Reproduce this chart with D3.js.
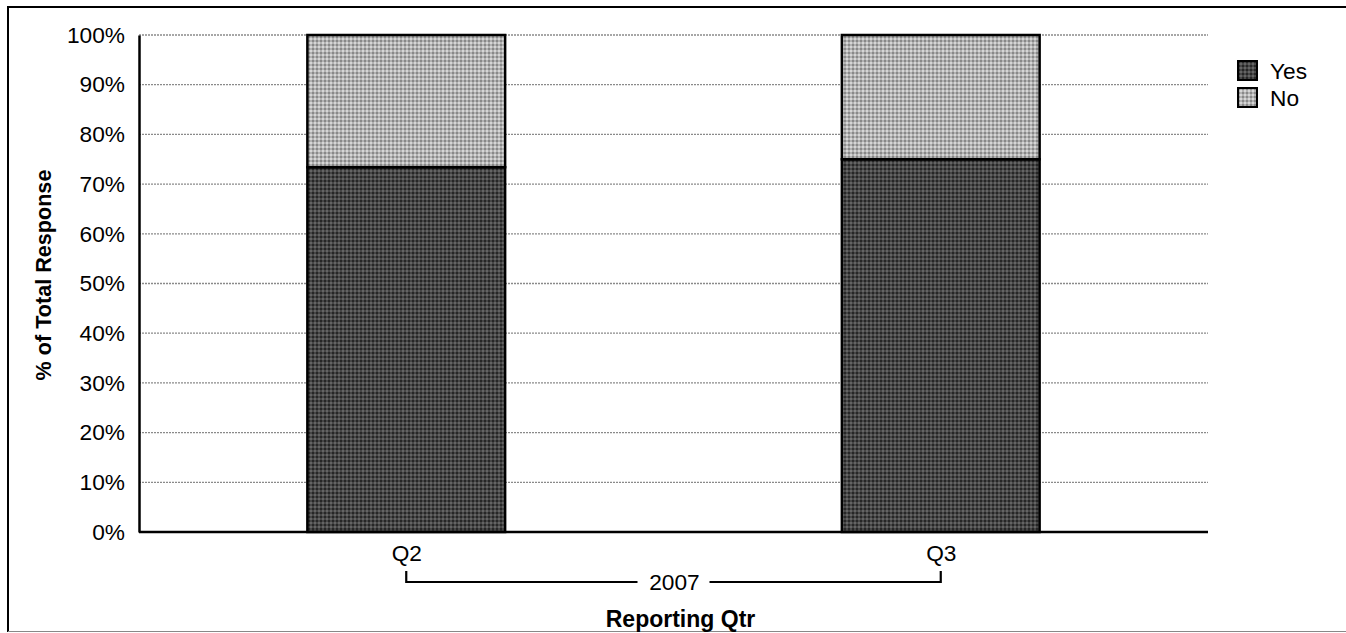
<!DOCTYPE html>
<html>
<head>
<meta charset="utf-8">
<script src="https://cdn.jsdelivr.net/npm/d3@7"></script>
<style>
  html, body { margin: 0; padding: 0; background: #fff; }
  svg { display: block; font-family: "Liberation Sans", Arial, sans-serif; }
</style>
</head>
<body>
<svg id="chart" width="1346" height="633"></svg>
<script>
// Survey responses per reporting quarter (percent of total)
const quarters = ["Q2", "Q3"];
const yesValues = [73.4, 75.0];
const noValues = [26.6, 25.0];
const seriesNames = ["Yes", "No"];
const yTicks = [0, 10, 20, 30, 40, 50, 60, 70, 80, 90, 100];
const yearLabel = "2007";

const svg = d3.select("#chart");
const margin = { left: 139, right: 138, top: 35, bottom: 101 };
const W = 1346, H = 633;
const FS = 22.7;

// Fill patterns
const defs = svg.append("defs");
const pYes = defs.append("pattern").attr("id", "patYes")
  .attr("patternUnits", "userSpaceOnUse").attr("width", 4).attr("height", 4);
pYes.append("rect").attr("width", 4).attr("height", 4).attr("fill", "#464646");
pYes.append("rect").attr("width", 2).attr("height", 2).attr("fill", "#262626");
pYes.append("rect").attr("x", 2).attr("y", 2).attr("width", 2).attr("height", 2).attr("fill", "#646464");

const pNo = defs.append("pattern").attr("id", "patNo")
  .attr("patternUnits", "userSpaceOnUse").attr("width", 4).attr("height", 4);
pNo.append("rect").attr("width", 4).attr("height", 4).attr("fill", "#b2b2b2");
pNo.append("rect").attr("width", 2).attr("height", 2).attr("fill", "#888888");
pNo.append("rect").attr("x", 2).attr("y", 2).attr("width", 2).attr("height", 2).attr("fill", "#d6d6d6");

// Outer frame
svg.append("line").attr("x1", 8).attr("x2", W).attr("y1", 7).attr("y2", 7)
  .attr("stroke", "#000").attr("stroke-width", 2);
svg.append("line").attr("x1", 8).attr("x2", 8).attr("y1", 6).attr("y2", 632)
  .attr("stroke", "#000").attr("stroke-width", 2);
svg.append("line").attr("x1", 8).attr("x2", W).attr("y1", 631.5).attr("y2", 631.5)
  .attr("stroke", "#888").attr("stroke-width", 1);

const x0 = margin.left, x1 = W - margin.right;
const y0 = H - margin.bottom, y1 = margin.top;

const x = d3.scalePoint().domain(quarters).range([x0, x1]).padding(0.5);
const y = d3.scaleLinear().domain([0, 100]).range([y0, y1]);
const barW = x.step() * 0.37;

// Gridlines
svg.append("g").selectAll("line").data(yTicks.filter(t => t > 0)).join("line")
  .attr("x1", x0).attr("x2", x1)
  .attr("y1", d => y(d)).attr("y2", d => y(d))
  .attr("stroke", "#8a8a8a").attr("stroke-width", 1.3)
  .attr("stroke-dasharray", "2,1");

// Stacked bars
const stackData = quarters.map((q, i) => ({ q, Yes: yesValues[i], No: noValues[i] }));
const stacked = d3.stack().keys(seriesNames)(stackData);
const fills = { Yes: "url(#patYes)", No: "url(#patNo)" };

svg.append("g").selectAll("g").data(stacked).join("g")
  .attr("fill", d => fills[d.key])
  .selectAll("rect").data(d => d).join("rect")
  .attr("x", d => x(d.data.q) - barW / 2)
  .attr("width", barW)
  .attr("y", d => y(d[1]))
  .attr("height", d => y(d[0]) - y(d[1]))
  .attr("stroke", "#000").attr("stroke-width", 2.5);

// Y axis
const yAxis = svg.append("g").attr("transform", `translate(${x0},0)`)
  .call(d3.axisLeft(y).tickValues(yTicks).tickFormat(d => d + "%").tickSize(0).tickPadding(14));
yAxis.select(".domain").attr("stroke", "#000").attr("stroke-width", 2.5);
yAxis.selectAll("text").attr("font-size", FS).attr("fill", "#000")
  .attr("font-family", "'Liberation Sans', Arial, sans-serif");

// X axis
const xAxis = svg.append("g").attr("transform", `translate(0,${y0})`)
  .call(d3.axisBottom(x).tickSize(0).tickPadding(13));
xAxis.select(".domain").attr("d", `M${x0},0H${x1}`).attr("stroke", "#000").attr("stroke-width", 2.5);
xAxis.selectAll("text").attr("font-size", FS).attr("fill", "#000")
  .attr("font-family", "'Liberation Sans', Arial, sans-serif");

// Year bracket under the quarters
const bx1 = x(quarters[0]), bx2 = x(quarters[quarters.length - 1]);
const by = 582, mid = (bx1 + bx2) / 2, gap = 36;
const br = svg.append("g").attr("stroke", "#000").attr("stroke-width", 2.2).attr("fill", "none");
br.append("path").attr("d", `M${bx1},${by - 11}V${by}H${mid - gap}`);
br.append("path").attr("d", `M${mid + gap},${by}H${bx2}V${by - 11}`);
svg.append("text").attr("x", mid + 1).attr("y", by + 8).attr("text-anchor", "middle")
  .attr("font-size", FS).text(yearLabel);

// Axis titles
svg.append("text").attr("x", mid + 7).attr("y", 627).attr("text-anchor", "middle")
  .attr("font-size", 23).attr("font-weight", "bold").text("Reporting Qtr");
svg.append("text").attr("transform", `translate(51,275) rotate(-90)`)
  .attr("text-anchor", "middle").attr("font-size", 21.6).attr("font-weight", "bold")
  .text("% of Total Response");

// Legend
const lg = svg.append("g").attr("transform", "translate(1238,61)");
const li = lg.selectAll("g").data(seriesNames).join("g")
  .attr("transform", (d, i) => `translate(0,${i * 27})`);
li.append("rect").attr("width", 19).attr("height", 19)
  .attr("fill", d => fills[d]).attr("stroke", "#000").attr("stroke-width", 2);
li.append("text").attr("x", 32).attr("y", 18).attr("font-size", FS).text(d => d);
</script>
</body>
</html>
